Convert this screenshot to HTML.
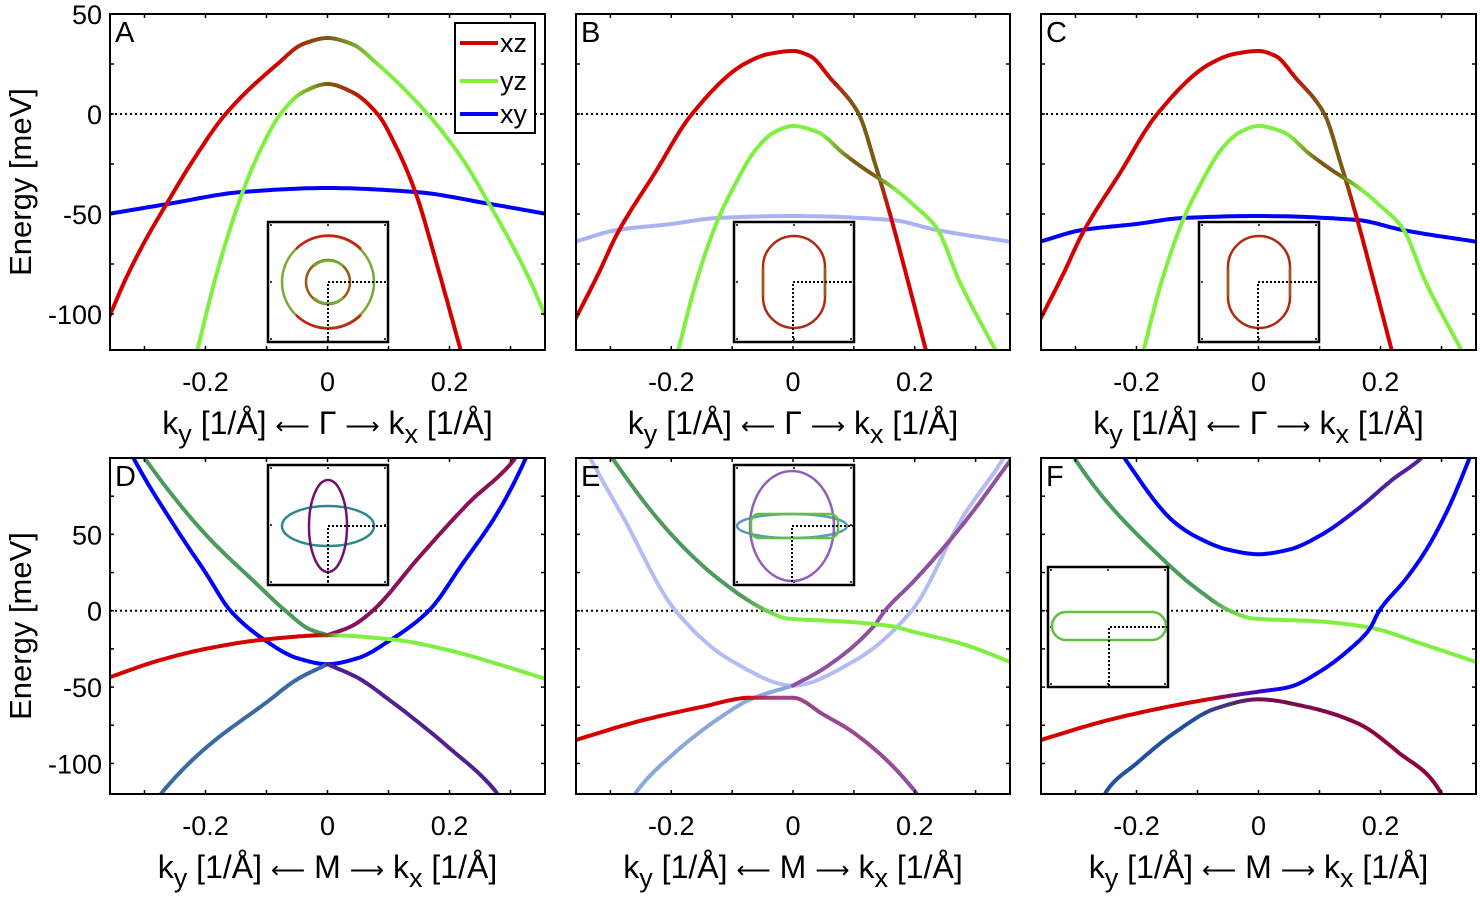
<!DOCTYPE html>
<html><head><meta charset="utf-8"><style>
html,body{margin:0;padding:0;background:#fff;}
svg{display:block;font-family:"Liberation Sans",Arial,sans-serif;}
</style></head><body>
<svg id="fig" width="1480" height="901" viewBox="0 0 1480 901" xmlns="http://www.w3.org/2000/svg"></svg>
<script>
const RED='#d40000',GRN='#80f040',BLU='#0000ff',OLV='#7a5a14',DGR='#4c9a5c',LBL='#aab2f6',PUR='#8a1058',VIO='#502090',STL='#3a6aa0',EPU='#9050a0',ESTL='#8aa8d8';
// Panel A
const A_outer=[[-0.36,-103],[-0.33,-82],[-0.30,-64],[-0.262,-44],[-0.22,-23],[-0.167,0],[-0.082,25],[-0.04,35],[0,38],[0.04,35],[0.082,25],[0.164,0],[0.22,-22],[0.267,-46],[0.30,-64],[0.33,-82],[0.36,-103]];
const A_inner=[[-0.215,-120],[-0.18,-78],[-0.139,-39],[-0.11,-18],[-0.077,0],[-0.04,11],[0,15],[0.04,11],[0.082,0],[0.115,-18],[0.144,-39],[0.18,-76],[0.22,-120]];
const A_xy=[[-0.36,-50],[-0.262,-45],[-0.14,-39],[0,-37],[0.144,-39],[0.267,-45],[0.36,-50]];
// Panels B, C
const B_outer=[[-0.36,-104],[-0.32,-80],[-0.289,-60],[-0.228,-30],[-0.166,0],[-0.08,25],[-0.04,30],[0,31.5],[0.028,29],[0.061,18],[0.108,0],[0.135,-25],[0.162,-53],[0.19,-85],[0.22,-120]];
const B_inner=[[-0.19,-120],[-0.16,-85],[-0.125,-54],[-0.1,-38],[-0.059,-17],[-0.03,-9],[0,-6],[0.04,-9],[0.084,-20],[0.12,-28],[0.165,-37],[0.2,-46],[0.236,-57],[0.274,-84],[0.336,-120]];
const B_xy=[[-0.36,-64],[-0.289,-58],[-0.2,-55],[-0.125,-52],[0,-51],[0.162,-53],[0.236,-58],[0.36,-64]];
// Panel D
const D_upperBlue=[[-0.33,110],[-0.318,100],[-0.25,55],[-0.2,25],[-0.159,0],[-0.1,-20],[-0.05,-31],[0,-35],[0.05,-31],[0.1,-20],[0.166,0],[0.22,30],[0.28,65],[0.325,100],[0.335,110]];
const D_greenLeft=[[-0.32,112],[-0.30,100],[-0.2,50],[-0.12,19],[-0.069,0],[-0.03,-12],[0,-16]];
const D_purpleRight=[[0,-16],[0.04,-10],[0.074,0],[0.15,35],[0.23,70],[0.308,100],[0.32,108]];
const D_flat=[[-0.36,-44],[-0.28,-33],[-0.2,-25],[-0.106,-19],[0,-16],[0.11,-19],[0.2,-26],[0.28,-35],[0.36,-45]];
const D_lowLeft=[[-0.28,-124],[-0.269,-118],[-0.2,-90],[-0.1,-60],[-0.05,-45],[0,-35]];
const D_lowRight=[[0,-35],[0.05,-44],[0.1,-58],[0.2,-90],[0.275,-118],[0.285,-124]];
// Panel E
const E_xy=[[-0.345,110],[-0.333,100],[-0.28,62],[-0.193,0],[-0.1,-33],[0,-49],[0.1,-33],[0.195,0],[0.28,62],[0.346,100],[0.36,110]];
const E_green=[[-0.31,108],[-0.297,100],[-0.2,50],[-0.12,20],[-0.043,0],[-0.01,-5],[0.08,-7],[0.16,-10],[0.2,-14],[0.28,-22],[0.36,-34]];
const E_lowLeft=[[-0.265,-124],[-0.256,-118],[-0.2,-95],[-0.12,-70],[-0.07,-58],[0,-49]];
const E_purple=[[0,-49],[0.05,-38],[0.133,-10],[0.151,0],[0.2,20],[0.28,57],[0.36,100]];
const E_red=[[-0.36,-85],[-0.25,-72],[-0.15,-63],[-0.07,-57],[0,-57],[0.05,-68],[0.1,-80],[0.2,-118],[0.21,-124]];
// Panel F
const F_upperBlue=[[-0.23,106],[-0.22,100],[-0.138,58],[-0.1,48],[-0.05,40],[0,37],[0.05,40],[0.1,49],[0.164,67],[0.22,86],[0.267,100],[0.28,106]];
const F_green=[[-0.31,106],[-0.302,100],[-0.147,30],[-0.1,14],[-0.047,0],[-0.01,-5],[0.1,-7],[0.182,-11],[0.27,-22],[0.36,-34]];
const F_redRise=[[-0.36,-85],[-0.25,-72],[-0.15,-63],[-0.052,-56],[0,-53],[0.05,-50],[0.1,-40],[0.15,-25],[0.182,-12],[0.198,0],[0.24,20],[0.272,38],[0.31,66],[0.346,100],[0.352,106]];
const F_low=[[-0.256,-124],[-0.249,-118],[-0.2,-100],[-0.138,-80],[-0.07,-64],[0,-58],[0.08,-63],[0.164,-74],[0.23,-93],[0.297,-118],[0.302,-124]];

const panels=[
 {id:'A',x0:110,x1:545,y0:14,y1:350,emin:-118,emax:50,sym:'Γ',yt:[-100,-50,0,50],ylab:true,
  curves:[[A_xy,[[0,BLU]]],[A_outer,[[-0.36,RED],[-0.09,RED],[0,OLV],[0.09,GRN],[0.36,GRN]]],[A_inner,[[-0.22,GRN],[-0.06,GRN],[0,OLV],[0.07,RED],[0.22,RED]]]]},
 {id:'B',x0:576,x1:1010,y0:14,y1:350,emin:-118,emax:50,sym:'Γ',yt:[],
  curves:[[B_xy,[[0,LBL]]],[B_outer,[[-0.36,RED],[0.05,RED],[0.1,OLV],[0.14,OLV],[0.16,RED],[0.22,RED]]],[B_inner,[[-0.2,GRN],[0.05,GRN],[0.1,OLV],[0.13,OLV],[0.17,GRN],[0.34,GRN]]]]},
 {id:'C',x0:1041,x1:1476,y0:14,y1:350,emin:-118,emax:50,sym:'Γ',yt:[],
  curves:[[B_xy,[[0,BLU]]],[B_outer,[[-0.36,RED],[0.05,RED],[0.1,OLV],[0.14,OLV],[0.16,RED],[0.22,RED]]],[B_inner,[[-0.2,GRN],[0.05,GRN],[0.1,OLV],[0.13,OLV],[0.17,GRN],[0.34,GRN]]]]},
 {id:'D',x0:110,x1:545,y0:458,y1:794,emin:-120,emax:100,sym:'M',yt:[-100,-50,0,50],ylab:true,
  curves:[[D_upperBlue,[[0,BLU]]],[D_greenLeft,[[0,DGR]]],[D_purpleRight,[[0,PUR]]],[D_flat,[[-0.36,RED],[-0.02,RED],[0,OLV],[0.02,GRN],[0.36,GRN]]],[D_lowLeft,[[0,STL]]],[D_lowRight,[[0,VIO]]]]},
 {id:'E',x0:576,x1:1010,y0:458,y1:794,emin:-120,emax:100,sym:'M',yt:[],
  curves:[[E_xy,[[0,'#b4bcf6']]],[E_lowLeft,[[0,ESTL]]],[E_red,[[-0.36,RED],[-0.08,RED],[-0.04,'#a04080'],[0.2,EPU]]],[E_purple,[[0,EPU]]],[E_green,[[-0.31,DGR],[-0.08,DGR],[-0.02,GRN],[0.36,GRN]]]]},
 {id:'F',x0:1041,x1:1476,y0:458,y1:794,emin:-120,emax:100,sym:'M',yt:[],
  curves:[[F_upperBlue,[[-0.23,BLU],[0.1,BLU],[0.2,'#5020a0'],[0.28,'#5020a0']]],[F_green,[[-0.31,DGR],[-0.08,DGR],[-0.02,GRN],[0.36,GRN]]],[F_low,[[-0.26,'#2050a0'],[-0.1,'#2050a0'],[0,'#701050'],[0.2,'#900040'],[0.3,'#900040']]],[F_redRise,[[-0.36,RED],[-0.09,RED],[-0.03,'#6010a0'],[0.05,BLU],[0.36,BLU]]]]}
];
const NS='http://www.w3.org/2000/svg';
const svg=document.getElementById('fig');
function mk(tag,attrs,parent){const e=document.createElementNS(NS,tag);for(const k in attrs)e.setAttribute(k,attrs[k]);(parent||svg).appendChild(e);return e;}
const defs=mk('defs',{});
function smooth(data){
 const n=data.length,xs=data.map(d=>d[0]),ys=data.map(d=>d[1]);
 const d=[],m=[];
 for(let i=0;i<n-1;i++)d.push((ys[i+1]-ys[i])/(xs[i+1]-xs[i]));
 m[0]=d[0];m[n-1]=d[n-2];
 for(let i=1;i<n-1;i++){ if(d[i-1]*d[i]<=0)m[i]=0; else {const w1=2*(xs[i+1]-xs[i])+(xs[i]-xs[i-1]),w2=(xs[i+1]-xs[i])+2*(xs[i]-xs[i-1]);m[i]=(w1+w2)/(w1/d[i-1]+w2/d[i]);}}
 const out=[];
 for(let i=0;i<n-1;i++){const h=xs[i+1]-xs[i];for(let s=0;s<16;s++){const t=s/16,t2=t*t,t3=t2*t;
  const y=(2*t3-3*t2+1)*ys[i]+(t3-2*t2+t)*h*m[i]+(-2*t3+3*t2)*ys[i+1]+(t3-t2)*h*m[i+1];out.push([xs[i]+t*h,y]);}}
 out.push([xs[n-1],ys[n-1]]);return out;}
let gid=0;
panels.forEach(p=>{
 const kmin=-0.3565,kmax=0.3565;
 const X=k=>p.x0+(k-kmin)/(kmax-kmin)*(p.x1-p.x0);
 const Y=e=>p.y1-(e-p.emin)/(p.emax-p.emin)*(p.y1-p.y0);
 const g=mk('g',{});
 
 
 const cp=mk('clipPath',{id:'clip'+p.id},defs);mk('rect',{x:p.x0,y:p.y0,width:p.x1-p.x0,height:p.y1-p.y0},cp);
 mk('rect',{x:p.x0,y:p.y0,width:p.x1-p.x0,height:p.y1-p.y0,fill:'#fff'},g);
 const z=mk('line',{x1:p.x0,x2:p.x1,y1:Y(0),y2:Y(0),stroke:'#000','stroke-width':2,'stroke-dasharray':'2,3'},g);
 
 const cg=mk('g',{'clip-path':'url(#clip'+p.id+')'},g);
 p.curves.forEach(c=>{
  const pts=smooth(c[0]).map(q=>X(q[0]).toFixed(1)+','+Y(q[1]).toFixed(1));
  let stroke=c[1][0][1];
  if(c[1].length>1){const id='gr'+(gid++);const lg=mk('linearGradient',{id:id,gradientUnits:'userSpaceOnUse',x1:X(c[1][0][0]),x2:X(c[1][c[1].length-1][0]),y1:0,y2:0},defs);
   const span=c[1][c[1].length-1][0]-c[1][0][0];
   c[1].forEach(s=>mk('stop',{offset:((s[0]-c[1][0][0])/span).toFixed(3),'stop-color':s[1]},lg));stroke='url(#'+id+')';}
  const pe=mk('polyline',{points:pts.join(' '),fill:'none',stroke:stroke,'stroke-width':4,'stroke-linecap':'round','stroke-linejoin':'round'},cg);
  
 });
 for(let k=-0.3;k<=0.31;k+=0.1){const x=X(k);mk('line',{x1:x,x2:x,y1:p.y1,y2:p.y1-4,stroke:'#000','stroke-width':1.5},g);mk('line',{x1:x,x2:x,y1:p.y0,y2:p.y0+4,stroke:'#000','stroke-width':1.5},g);}
 for(let e=Math.ceil(p.emin/25)*25;e<=p.emax;e+=25){const y=Y(e);mk('line',{x1:p.x0,x2:p.x0+4,y1:y,y2:y,stroke:'#000','stroke-width':1.5},g);mk('line',{x1:p.x1,x2:p.x1-4,y1:y,y2:y,stroke:'#000','stroke-width':1.5},g);}
 const fr=mk('rect',{x:p.x0,y:p.y0,width:p.x1-p.x0,height:p.y1-p.y0,fill:'none',stroke:'#000','stroke-width':2},g);
 
 const lt=mk('text',{x:p.x0+5,y:p.y0+28,'font-size':29},g);lt.textContent=p.id;
 
 [-0.2,0,0.2].forEach(k=>{const t=mk('text',{x:X(k),y:p.y1+41,'font-size':27,'text-anchor':'middle'},g);t.textContent=(k===0?'0':k.toFixed(1));
  });
 p.yt.forEach(e=>{const t=mk('text',{x:p.x0-8,y:Y(e)+10,'font-size':27,'text-anchor':'end'},g);t.textContent=e;
  });
 const xl=mk('text',{x:(p.x0+p.x1)/2,y:p.y1+84,'font-size':32,'text-anchor':'middle'},g);
 
 xl.innerHTML='k<tspan dy="9" font-size="27">y</tspan><tspan dy="-9"> [1/Å] </tspan><tspan font-size="24">⟵</tspan><tspan> '+p.sym+' </tspan><tspan font-size="24">⟶</tspan><tspan> k</tspan><tspan dy="9" font-size="27">x</tspan><tspan dy="-9"> [1/Å]</tspan>';
 if(p.ylab){const yl=mk('text',{x:0,y:0,'font-size':31,'text-anchor':'middle',transform:'translate(31,'+((p.y0+p.y1)/2)+') rotate(-90)'},g);yl.textContent='Energy [meV]';
  }
});
function inset(x,y,name){const g=mk('g',{});
 mk('rect',{x:x,y:y,width:120,height:120,fill:'#fff',stroke:'#000','stroke-width':2.5},g);
 [[x+3,y+3],[x+60,y+3],[x+117,y+3],[x+3,y+117],[x+60,y+117],[x+117,y+117],[x+3,y+60],[x+117,y+60]].forEach(q=>mk('circle',{cx:q[0],cy:q[1],r:1,fill:'#000'},g));
 return g;}
function dots(g,cx,cy,x1,y2){mk('path',{d:'M'+cx+','+y2+' V'+cy+' H'+x1,fill:'none',stroke:'#000','stroke-width':2,'stroke-dasharray':'2,2'},g);}
let g=inset(268,222,'inset-fermi-surface-a');
mk('circle',{cx:328,cy:282,r:46,fill:'none',stroke:'#7aa830','stroke-width':2.5},g);
mk('path',{d:'M296,249 A46,46 0 0 1 361,249 M296,315 A46,46 0 0 0 361,315',fill:'none',stroke:'#c82010','stroke-width':2.5},g);
mk('circle',{cx:328,cy:282,r:22,fill:'none',stroke:'#9a5a18','stroke-width':2.5},g);
mk('path',{d:'M314,266 A22,22 0 0 1 343,266 M314,298 A22,22 0 0 0 343,298',fill:'none',stroke:'#70b030','stroke-width':2.5},g);
dots(g,328,282,388,342);
['inset-fermi-surface-b','inset-fermi-surface-c'].forEach((n,i)=>{const x=i?1199:734;g=inset(x,222,n);
 mk('rect',{x:x+29,y:236,width:62,height:92,rx:31,ry:31,fill:'none',stroke:'#b02a10','stroke-width':2.5},g);
 mk('line',{x1:x+29,x2:x+29,y1:268,y2:296,stroke:'#9a5a18','stroke-width':2.5},g);mk('line',{x1:x+91,x2:x+91,y1:268,y2:296,stroke:'#9a5a18','stroke-width':2.5},g);
 dots(g,x+59,282,x+120,342);});
g=inset(268,465,'inset-fermi-surface-d');
mk('ellipse',{cx:328,cy:526,rx:46,ry:20,fill:'none',stroke:'#2a8a8a','stroke-width':2.5},g);
mk('ellipse',{cx:328,cy:526,rx:19,ry:46,fill:'none',stroke:'#701070','stroke-width':2.5},g);
dots(g,328,526,388,586);
g=inset(734,465,'inset-fermi-surface-e');
mk('ellipse',{cx:792,cy:526,rx:55,ry:12,fill:'none',stroke:'#5a9ab8','stroke-width':2.5},g);
mk('ellipse',{cx:792,cy:526,rx:42,ry:55,fill:'none',stroke:'#9060c0','stroke-width':2.5},g);
mk('rect',{x:751,y:514,width:87,height:24,rx:8,fill:'none',stroke:'#60c040','stroke-width':2.5},g);
dots(g,792,526,854,586);
g=inset(1048,567,'inset-fermi-surface-f');
mk('rect',{x:1052,y:612,width:114,height:28,rx:14,fill:'none',stroke:'#60c040','stroke-width':2.5},g);
dots(g,1109,627,1168,686);
const lg=mk('g',{});
mk('rect',{x:455,y:23,width:80,height:110,fill:'#fff',stroke:'#000','stroke-width':2},lg);
[['xz',RED,43],['yz',GRN,81],['xy',BLU,114]].forEach(e=>{const eg=mk('g',{},lg);
 mk('line',{x1:460,x2:498,y1:e[2],y2:e[2],stroke:e[1],'stroke-width':4},eg);
 const t=mk('text',{x:500,y:e[2]+9,'font-size':27},eg);t.textContent=e[0];});
</script>
</body></html>
